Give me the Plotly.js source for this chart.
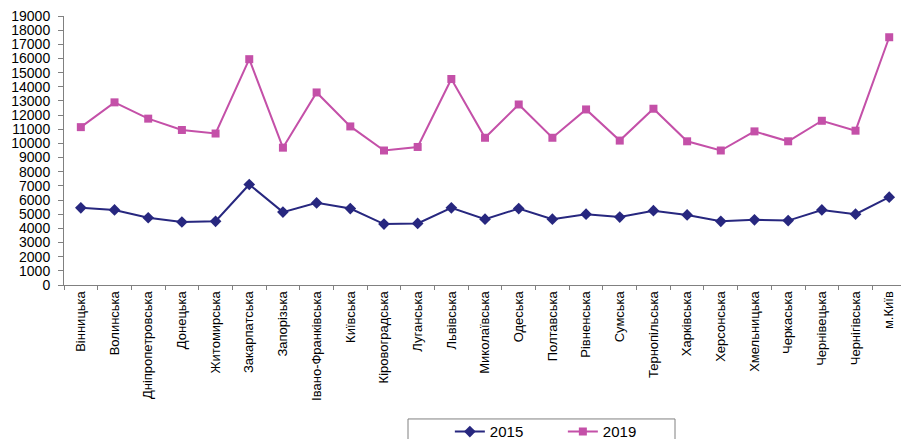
<!DOCTYPE html>
<html>
<head>
<meta charset="utf-8">
<script src="https://cdn.plot.ly/plotly-3.0.1.min.js"></script>
<style>html,body{margin:0;padding:0;background:#fff;}#chart{width:901px;height:439px;}</style>
</head>
<body>
<div id="chart"></div>
<script>
const regions = ["Вінницька","Волинська","Дніпропетровська","Донецька","Житомирська","Закарпатська","Запорізька","Івано-Франківська","Київська","Кіровоградська","Луганська","Львівська","Миколаївська","Одеська","Полтавська","Рівненська","Сумська","Тернопільська","Харківська","Херсонська","Хмельницька","Черкаська","Чернівецька","Чернігівська","м.Київ"];
const values2015 = [5450,5300,4750,4450,4500,7100,5150,5800,5400,4300,4350,5450,4650,5400,4650,5000,4800,5250,4950,4500,4600,4550,5300,5000,6200];
const values2019 = [11150,12900,11750,10950,10700,15950,9700,13600,11200,9500,9750,14550,10400,12750,10400,12400,10200,12450,10150,9500,10850,10150,11600,10900,17500];
const yTicks = [0,1000,2000,3000,4000,5000,6000,7000,8000,9000,10000,11000,12000,13000,14000,15000,16000,17000,18000,19000];
const seriesNames = ["2015","2019"];

const traces = [
  {x: regions, y: values2015, name: seriesNames[0], type: "scatter", mode: "lines+markers",
   line: {color: "#27277f", width: 2}, marker: {symbol: "diamond", size: 9, color: "#27277f"}},
  {x: regions, y: values2019, name: seriesNames[1], type: "scatter", mode: "lines+markers",
   line: {color: "#c450a8", width: 2}, marker: {symbol: "square", size: 8, color: "#c450a8"}}
];

const layout = {
  width: 901, height: 439,
  margin: {l: 64, r: 0, t: 16, b: 154, autoexpand: false},
  paper_bgcolor: "#fff", plot_bgcolor: "#fff",
  font: {family: "Liberation Sans, Arial, sans-serif", color: "#000"},
  showlegend: true,
  legend: {orientation: "h", x: 0.461, xanchor: "left", y: -0.546, yanchor: "middle",
           borderwidth: 0, font: {size: 15}, entrywidth: 68, itemwidth: 30,
           bgcolor: "rgba(0,0,0,0)"},
  shapes: [{type: "rect", xref: "paper", yref: "paper", x0: 0.411, x1: 0.730, y0: -0.498, y1: -0.62,
            line: {color: "#808080", width: 1}, fillcolor: "rgba(0,0,0,0)"}],
  xaxis: {type: "category", range: [-0.5, 24.35], showgrid: false, zeroline: false,
          showline: true, linecolor: "#808080", linewidth: 1,
          ticks: "outside", ticklen: 4, tickcolor: "#808080", tickson: "boundaries",
          tickangle: -90, tickfont: {size: 13}},
  yaxis: {range: [0, 19000], tickvals: yTicks, ticktext: yTicks.map(String),
          showgrid: false, zeroline: false, showline: true, linecolor: "#808080", linewidth: 1,
          ticks: "outside", ticklen: 5, tickcolor: "#808080", tickfont: {size: 14},
          ticklabelstandoff: 5}
};

Plotly.newPlot("chart", traces, layout, {displayModeBar: false, staticPlot: true});
</script>
</body>
</html>
